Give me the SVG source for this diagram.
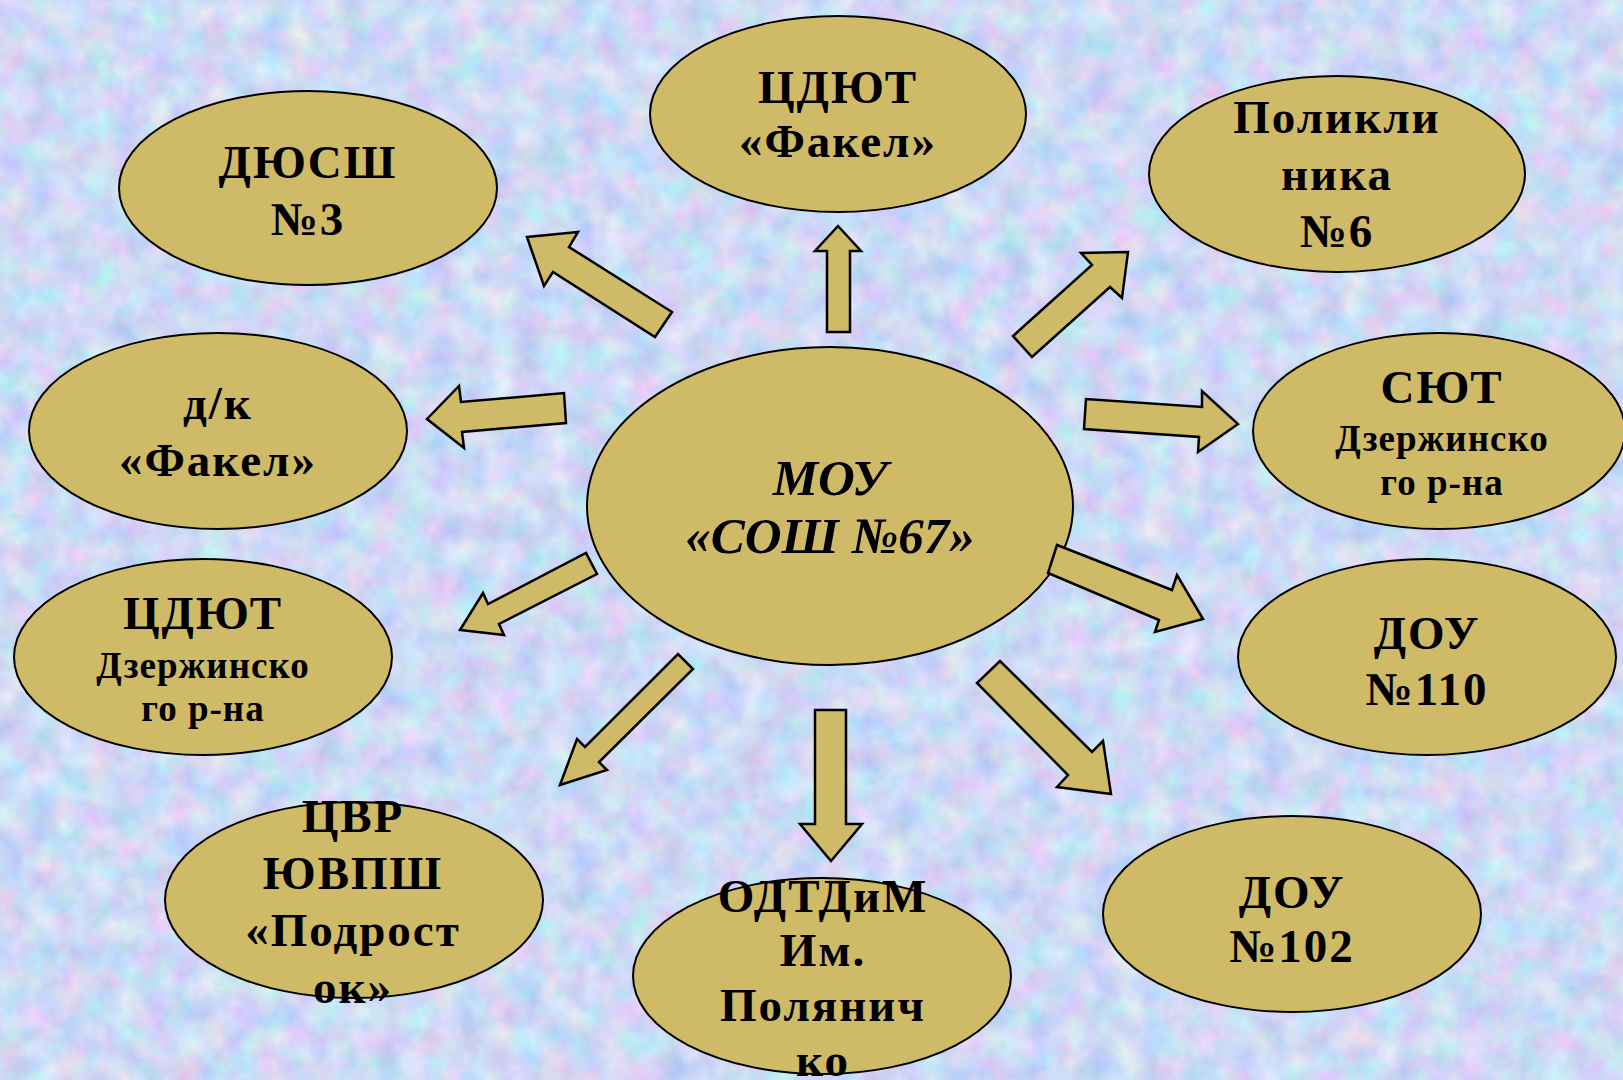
<svg xmlns="http://www.w3.org/2000/svg" width="1623" height="1080" viewBox="0 0 1623 1080">
<defs>
<filter id="tex" x="0" y="0" width="100%" height="100%" color-interpolation-filters="sRGB">
<feTurbulence type="fractalNoise" baseFrequency="0.035" numOctaves="3" seed="7" result="n"/>
<feColorMatrix in="n" type="matrix" values="0.35 0 0 0 0.63  0 0.25 0 0 0.73  0 0 0.12 0 0.9  0 0 0 0 1"/>
</filter>
<style>
.node ellipse{fill:#cfba67;stroke:#000;stroke-width:2}
.arr{fill:#cfba67;stroke:#000;stroke-width:2.5;stroke-linejoin:miter}
text{font-family:"Liberation Serif","Times New Roman",serif;font-weight:bold;fill:#000;text-anchor:middle}
.big{font-size:47px;letter-spacing:2px}
.small{font-size:37px;letter-spacing:1px}
.main{font-size:51px;font-style:italic}
</style>
</defs>
<rect width="1623" height="1080" fill="#cbd9f4"/>
<rect width="1623" height="1080" filter="url(#tex)"/>

<g id="n-center" class="node">
<ellipse cx="830" cy="506" rx="243" ry="159"/>
<text class="main" x="830" y="495">МОУ</text>
<text class="main" x="830" y="553">«СОШ №67»</text>
</g>

<g id="connectors">
<polygon class="arr" points="527,237 578,232 569,247 672,312 655,337 553,272 544,286"/>
<polygon class="arr" points="838,226 861,251 850,251 850,332 827,332 827,251 815,251"/>
<polygon class="arr" points="1128,252 1122,298 1110,287 1032,357 1013,336 1092,265 1081,253"/>
<polygon class="arr" points="427,419 459,386 461,402 564,393 566,423 462,432 464,448"/>
<polygon class="arr" points="1238,424 1198,452 1199,437 1084,429 1086,399 1202,407 1202,391"/>
<polygon class="arr" points="460,630 483,593 488,604 586,553 597,574 499,624 504,635"/>
<polygon class="arr" points="1203,619 1177,575 1172,590 1057,545 1048,573 1159,620 1155,632"/>
<polygon class="arr" points="560,785 577,739 585,747 678,654 693,669 599,762 607,770"/>
<polygon class="arr" points="831,861 862,824 846,824 846,710 815,710 815,824 800,824"/>
<polygon class="arr" points="1111,794 1057,787 1068,775 977,683 1000,661 1092,752 1103,741"/>
</g>

<g id="n-dyussh" class="node">
<ellipse cx="308" cy="188" rx="189" ry="97"/>
<text class="big" x="308" y="178">ДЮСШ</text>
<text class="big" x="308" y="235">№3</text>
</g>

<g id="n-cdyut-fakel" class="node">
<ellipse cx="838" cy="114" rx="188" ry="98"/>
<text class="big" x="838" y="103">ЦДЮТ</text>
<text class="big" x="838" y="157">«Факел»</text>
</g>

<g id="n-poliklinika" class="node">
<ellipse cx="1337" cy="174" rx="188" ry="98"/>
<text class="big" x="1337" y="133">Поликли</text>
<text class="big" x="1337" y="190">ника</text>
<text class="big" x="1337" y="247">№6</text>
</g>

<g id="n-dk-fakel" class="node">
<ellipse cx="218" cy="431" rx="189" ry="98"/>
<text class="big" x="218" y="419">д/к</text>
<text class="big" x="218" y="476">«Факел»</text>
</g>

<g id="n-syut" class="node">
<ellipse cx="1439" cy="431" rx="186" ry="98"/>
<text class="big" x="1442" y="403">СЮТ</text>
<text class="small" x="1442" y="451">Дзержинско</text>
<text class="small" x="1442" y="495">го р-на</text>
</g>

<g id="n-cdyut-dz" class="node">
<ellipse cx="203" cy="657" rx="189" ry="98"/>
<text class="big" x="203" y="629">ЦДЮТ</text>
<text class="small" x="203" y="678">Дзержинско</text>
<text class="small" x="203" y="721">го р-на</text>
</g>

<g id="n-dou110" class="node">
<ellipse cx="1427" cy="657" rx="189" ry="98"/>
<text class="big" x="1427" y="649">ДОУ</text>
<text class="big" x="1427" y="705">№110</text>
</g>

<g id="n-cvr" class="node">
<ellipse cx="354" cy="900" rx="189" ry="98"/>
<text class="big" x="353" y="832">ЦВР</text>
<text class="big" x="353" y="889">ЮВПШ</text>
<text class="big" x="353" y="946">«Подрост</text>
<text class="big" x="353" y="1003">ок»</text>
</g>

<g id="n-odtdim" class="node">
<ellipse cx="822" cy="976" rx="189" ry="98"/>
<text class="big" x="823" y="912">ОДТДиМ</text>
<text class="big" x="823" y="966">Им.</text>
<text class="big" x="823" y="1021">Полянич</text>
<text class="big" x="823" y="1076">ко</text>
</g>

<g id="n-dou102" class="node">
<ellipse cx="1292" cy="914" rx="189" ry="98"/>
<text class="big" x="1292" y="908">ДОУ</text>
<text class="big" x="1292" y="962">№102</text>
</g>
</svg>
